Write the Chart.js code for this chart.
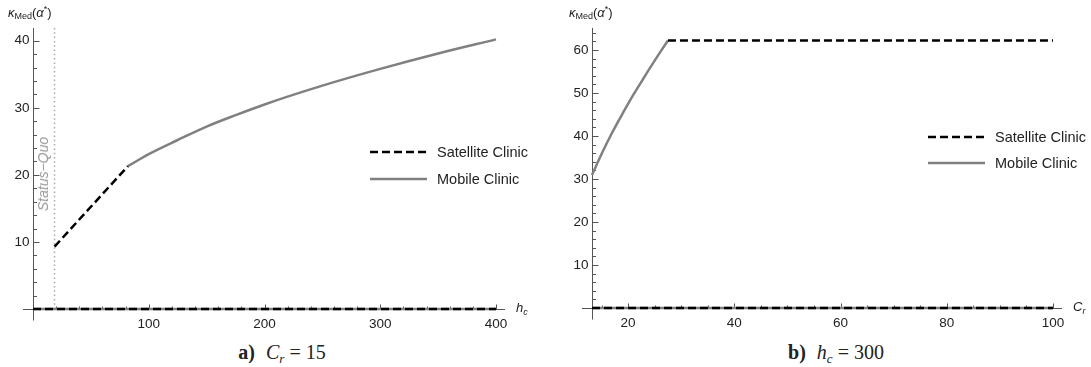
<!DOCTYPE html>
<html lang="en">
<head>
<meta charset="UTF-8">
<title>kappa Med</title>
<script src="https://cdn.jsdelivr.net/npm/chart.js"></script>
<style>
  body { margin: 0; background: #fff; width: 1091px; height: 367px; position: relative; overflow: hidden;
         font-family: "Liberation Sans", Arial, sans-serif; color: #222; }
  canvas { position: absolute; top: 0; }
  .t { position: absolute; white-space: nowrap; line-height: 1; }
  .ytitle { font-size: 13px; }
  .ytitle sub { font-size: 9px; vertical-align: -2px; }
  .ytitle sup { font-size: 9px; vertical-align: 5px; }
  .xtitle { font-size: 13px; font-style: italic; }
  .xtitle sub { font-size: 9px; vertical-align: -3px; }
  .legend { font-size: 14.5px; }
  .legend svg { position: absolute; }
  .sq { font-size: 14px; font-style: italic; color: #999; transform: translate(-50%, -50%) rotate(-90deg); }
  .cap { font-family: "Liberation Serif", "DejaVu Serif", serif; font-size: 20px; transform: translateX(-50%); }
  .cap b { margin-right: 6px; }
  .cap sub { font-size: 13px; font-style: italic; vertical-align: -4px; }
</style>
</head>
<body>

<canvas id="chartA" width="545" height="340" style="left:0"></canvas>
<canvas id="chartB" width="546" height="340" style="left:545px"></canvas>

<!-- axis titles -->
<div class="t ytitle" style="left:8px; top:5px"><i>κ</i><sub>Med</sub>(<i>α</i><sup>*</sup>)</div>
<div class="t ytitle" style="left:569px; top:5px"><i>κ</i><sub>Med</sub>(<i>α</i><sup>*</sup>)</div>
<div class="t xtitle" style="left:516px; top:301px">h<sub>c</sub></div>
<div class="t xtitle" style="left:1073px; top:300px">C<sub>r</sub></div>

<div class="t sq" style="left:43px; top:174px">Status−Quo</div>

<!-- legends -->
<div class="legend">
  <svg style="left:370px; top:146px" width="57" height="12"><line x1="0" y1="6" x2="57" y2="6" stroke="#000" stroke-width="2.5" stroke-dasharray="8,4"/></svg>
  <div class="t" style="left:437px; top:145px">Satellite Clinic</div>
  <svg style="left:370px; top:173px" width="57" height="12"><line x1="0" y1="6" x2="57" y2="6" stroke="#808080" stroke-width="2.5"/></svg>
  <div class="t" style="left:437px; top:172px">Mobile Clinic</div>

  <svg style="left:928px; top:131px" width="57" height="12"><line x1="0" y1="6" x2="57" y2="6" stroke="#000" stroke-width="2.5" stroke-dasharray="8,4"/></svg>
  <div class="t" style="left:995px; top:130px">Satellite Clinic</div>
  <svg style="left:928px; top:157px" width="57" height="12"><line x1="0" y1="6" x2="57" y2="6" stroke="#808080" stroke-width="2.5"/></svg>
  <div class="t" style="left:995px; top:156px">Mobile Clinic</div>
</div>

<!-- captions -->
<div class="t cap" style="left:282px; top:342px"><b>a)</b> <i>C</i><sub>r</sub> = 15</div>
<div class="t cap" style="left:836px; top:342px"><b>b)</b> <i>h</i><sub>c</sub> = 300</div>

<script>
// panel a) C_r = 15, x axis is h_c
const hcRange = [0, 400];
const kMaxA = 41.9;
const hcSatellite = [18.6, 82];
const kSatelliteA = [9.3, 21.3];
const hcMobile = [82, 90, 100, 125, 150, 175, 200, 250, 300, 350, 400];
const kMobileA = [21.3, 22.1, 23.1, 25.2, 27.2, 28.9, 30.5, 33.3, 35.8, 38.1, 40.2];
const statusQuoHc = 18.6;
const xTicksA = [100, 200, 300, 400];
const yTicksA = [10, 20, 30, 40];

// panel b) h_c = 300, x axis is C_r
const crRange = [13.2, 100];
const kMaxB = 65.1;
const crSatellite = [27.5, 100];
const kSatelliteB = [62.2, 62.2];
const crMobile = [13.2, 15, 17, 19, 21, 23, 25, 27.5];
const kMobileB = [30.9, 35.8, 40.8, 45.3, 49.6, 53.6, 57.5, 62.2];
const xTicksB = [20, 40, 60, 80, 100];
const yTicksB = [10, 20, 30, 40, 50, 60];

const zip = (xs, ys) => xs.map((x, i) => ({ x: x, y: ys[i] }));

// Mathematica-like axes: crossing lines, inward ticks, minor ticks
const axesPlugin = {
    id: 'mAxes',
    beforeDatasetsDraw(chart, args, o) {
        const ctx = chart.ctx, a = chart.chartArea;
        const xs = chart.scales.x, ys = chart.scales.y;
        const ax = Math.round(xs.getPixelForValue(xs.min)) + 0.5;
        const ay = Math.round(ys.getPixelForValue(0)) + 0.5;
        ctx.save();
        ctx.strokeStyle = '#555';
        ctx.lineWidth = 1;
        ctx.beginPath();
        ctx.moveTo(a.left - 10, ay); ctx.lineTo(a.right + 9, ay);
        ctx.moveTo(ax, a.top); ctx.lineTo(ax, ay + 11);

        // x ticks
        for (let v = Math.ceil(xs.min / o.xMinor) * o.xMinor; v <= xs.max + 1e-9; v += o.xMinor) {
            if (v <= xs.min) continue;
            const p = Math.round(xs.getPixelForValue(v)) + 0.5;
            const len = o.xTicks.includes(v) ? 5 : 3;
            ctx.moveTo(p, ay); ctx.lineTo(p, ay - len);
        }
        // y ticks
        for (let v = o.yMinor; v <= ys.max + 1e-9; v += o.yMinor) {
            const p = Math.round(ys.getPixelForValue(v)) + 0.5;
            const len = o.yTicks.includes(v) ? 6 : 3.5;
            ctx.moveTo(ax, p); ctx.lineTo(ax + len, p);
        }
        ctx.stroke();

        ctx.fillStyle = '#222';
        ctx.font = '13.5px "Liberation Sans", Arial, sans-serif';
        ctx.textAlign = 'center';
        ctx.textBaseline = 'top';
        o.xTicks.forEach(v => ctx.fillText(String(v), xs.getPixelForValue(v), ay + 8));
        ctx.textAlign = 'right';
        ctx.textBaseline = 'middle';
        o.yTicks.forEach(v => ctx.fillText(String(v), ax - 4, ys.getPixelForValue(v)));
        ctx.restore();
    }
};

function makeChart(id, cfg) {
    const ctx = document.getElementById(id).getContext('2d');
    return new Chart(ctx, {
        type: 'line',
        data: { datasets: cfg.datasets },
        options: {
            responsive: false,
            animation: false,
            events: [],
            layout: { padding: cfg.padding },
            elements: { point: { radius: 0 } },
            plugins: {
                legend: { display: false },
                tooltip: { enabled: false },
                mAxes: cfg.axes
            },
            scales: {
                x: { type: 'linear', min: cfg.xMin, max: cfg.xMax, display: false },
                y: { type: 'linear', min: 0, max: cfg.yMax, display: false }
            }
        },
        plugins: [axesPlugin]
    });
}

function seriesSet(xRange, satX, satY, mobX, mobY, extra) {
    const zeros = xRange.map(() => 0);
    return [
        { label: 'Satellite Clinic', data: zip(satX, satY), borderColor: '#000', borderWidth: 2.5,
          borderDash: [8, 4], clip: false, order: 1 },
        { label: 'Mobile Clinic', data: zip(mobX, mobY), borderColor: '#808080', borderWidth: 2.5,
          cubicInterpolationMode: 'monotone', borderJoinStyle: 'round', clip: false, order: 2 },
        { label: 'Satellite Clinic (zero)', data: zip(xRange, zeros), borderColor: '#000', borderWidth: 2.5,
          borderDash: [8, 4], clip: false, order: 3 },
        { label: 'Mobile Clinic (zero)', data: zip(xRange, zeros), borderColor: '#808080', borderWidth: 2.5,
          clip: false, order: 4 }
    ].concat(extra || []);
}

makeChart('chartA', {
    xMin: hcRange[0], xMax: hcRange[1], yMax: kMaxA,
    padding: { left: 33, top: 28, right: 49, bottom: 31 },
    axes: { xTicks: xTicksA, yTicks: yTicksA, xMinor: 20, yMinor: 2 },
    datasets: seriesSet(hcRange, hcSatellite, kSatelliteA, hcMobile, kMobileA, [
        { label: 'Status-Quo', data: zip([statusQuoHc, statusQuoHc], [0, kMaxA]), borderColor: '#aaa',
          borderWidth: 1.5, borderDash: [1.5, 2.8], clip: false, order: 5 }
    ])
});

makeChart('chartB', {
    xMin: crRange[0], xMax: crRange[1], yMax: kMaxB,
    padding: { left: 47, top: 28, right: 38, bottom: 32 },
    axes: { xTicks: xTicksB, yTicks: yTicksB, xMinor: 5, yMinor: 2 },
    datasets: seriesSet(crRange, crSatellite, kSatelliteB, crMobile, kMobileB)
});
</script>
</body>
</html>
